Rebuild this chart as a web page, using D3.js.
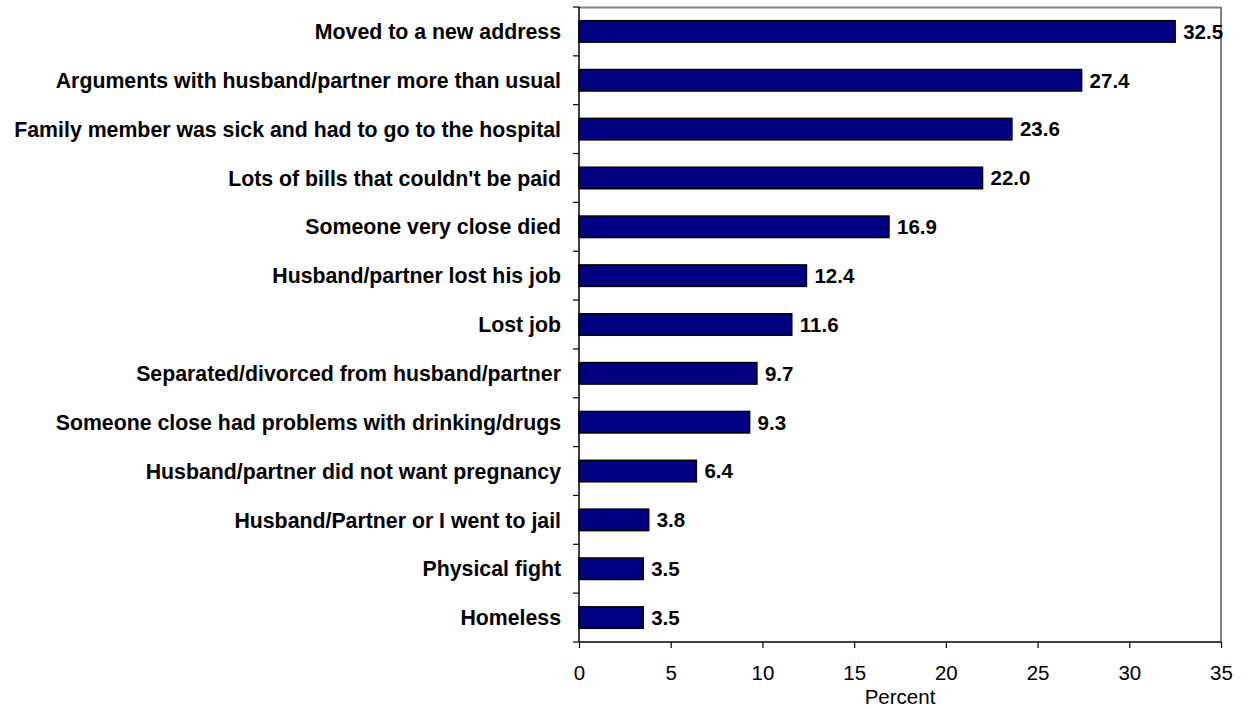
<!DOCTYPE html>
<html><head><meta charset="utf-8">
<script src="https://cdn.jsdelivr.net/npm/d3@7/dist/d3.min.js"></script>
<style>body{margin:0;background:#fff;} text{font-family:"Liberation Sans",Arial,sans-serif;}</style>
</head><body><svg id="c" width="1248" height="709"></svg>
<script>
const categories = ["Moved to a new address","Arguments with husband/partner more than usual","Family member was sick and had to go to the hospital","Lots of bills that couldn't be paid","Someone very close died","Husband/partner lost his job","Lost job","Separated/divorced from husband/partner","Someone close had problems with drinking/drugs","Husband/partner did not want pregnancy","Husband/Partner or I went to jail","Physical fight","Homeless"];
const values = [32.5,27.4,23.6,22.0,16.9,12.4,11.6,9.7,9.3,6.4,3.8,3.5,3.5];
const xTicks = [0,5,10,15,20,25,30,35];
const xTitle = "Percent";

const svg = d3.select("#c");
const L=579, R=1221, T=7, B=642;
const x = d3.scaleLinear().domain([0,35]).range([L,R]);
const y = d3.scaleBand().domain(categories).range([T,B]).paddingInner(0.56).paddingOuter(0.28);

// top & right border
svg.append("line").attr("x1",L).attr("x2",R).attr("y1",T+0.5).attr("y2",T+0.5).attr("stroke","#808080").attr("stroke-width",2);
svg.append("line").attr("x1",R).attr("x2",R).attr("y1",T).attr("y2",B).attr("stroke","#808080").attr("stroke-width",2);

svg.selectAll("rect.bar").data(values).enter().append("rect")
  .attr("x",x(0)).attr("y",(d,i)=>y(categories[i]))
  .attr("width",d=>x(d)-x(0)).attr("height",y.bandwidth())
  .attr("fill","#000080").attr("stroke","#000").attr("stroke-width",1.5);

svg.selectAll("text.val").data(values).enter().append("text")
  .attr("x",d=>x(d)+8).attr("y",(d,i)=>y(categories[i])+y.bandwidth()/2)
  .attr("dy","0.36em").attr("font-size",20.5).attr("font-weight","bold").text(d=>d.toFixed(1));

// y axis
const step = (B-T)/categories.length;
const yg = svg.append("g");
yg.append("line").attr("x1",L).attr("x2",L).attr("y1",T).attr("y2",B).attr("stroke","#000").attr("stroke-width",1.5);
for(let i=0;i<=categories.length;i++){
  yg.append("line").attr("x1",L-6).attr("x2",L).attr("y1",T+i*step).attr("y2",T+i*step).attr("stroke","#000").attr("stroke-width",1.2);
}
categories.forEach((c,i)=>{
  yg.append("text").attr("x",561).attr("y",T+(i+0.5)*step).attr("dy","0.36em")
    .attr("text-anchor","end").attr("font-size",21.3).attr("font-weight","bold").text(c);
});

// x axis
const xa = d3.axisBottom(x).tickValues(xTicks).tickSize(6).tickPadding(12);
const xg = svg.append("g").attr("transform",`translate(0,${B})`).call(xa);
xg.select(".domain").attr("stroke","#000").attr("stroke-width",1.5).attr("d",`M${L},0H${R}`);
xg.selectAll(".tick line").attr("stroke","#000").attr("stroke-width",1.2);
xg.selectAll(".tick text").attr("font-size",20.5).attr("fill","#000").attr("font-family","Liberation Sans, Arial, sans-serif").attr("dy",null).attr("y",38);
svg.append("text").attr("x",900).attr("y",704).attr("text-anchor","middle").attr("font-size",20.5).text(xTitle);
</script></body></html>
